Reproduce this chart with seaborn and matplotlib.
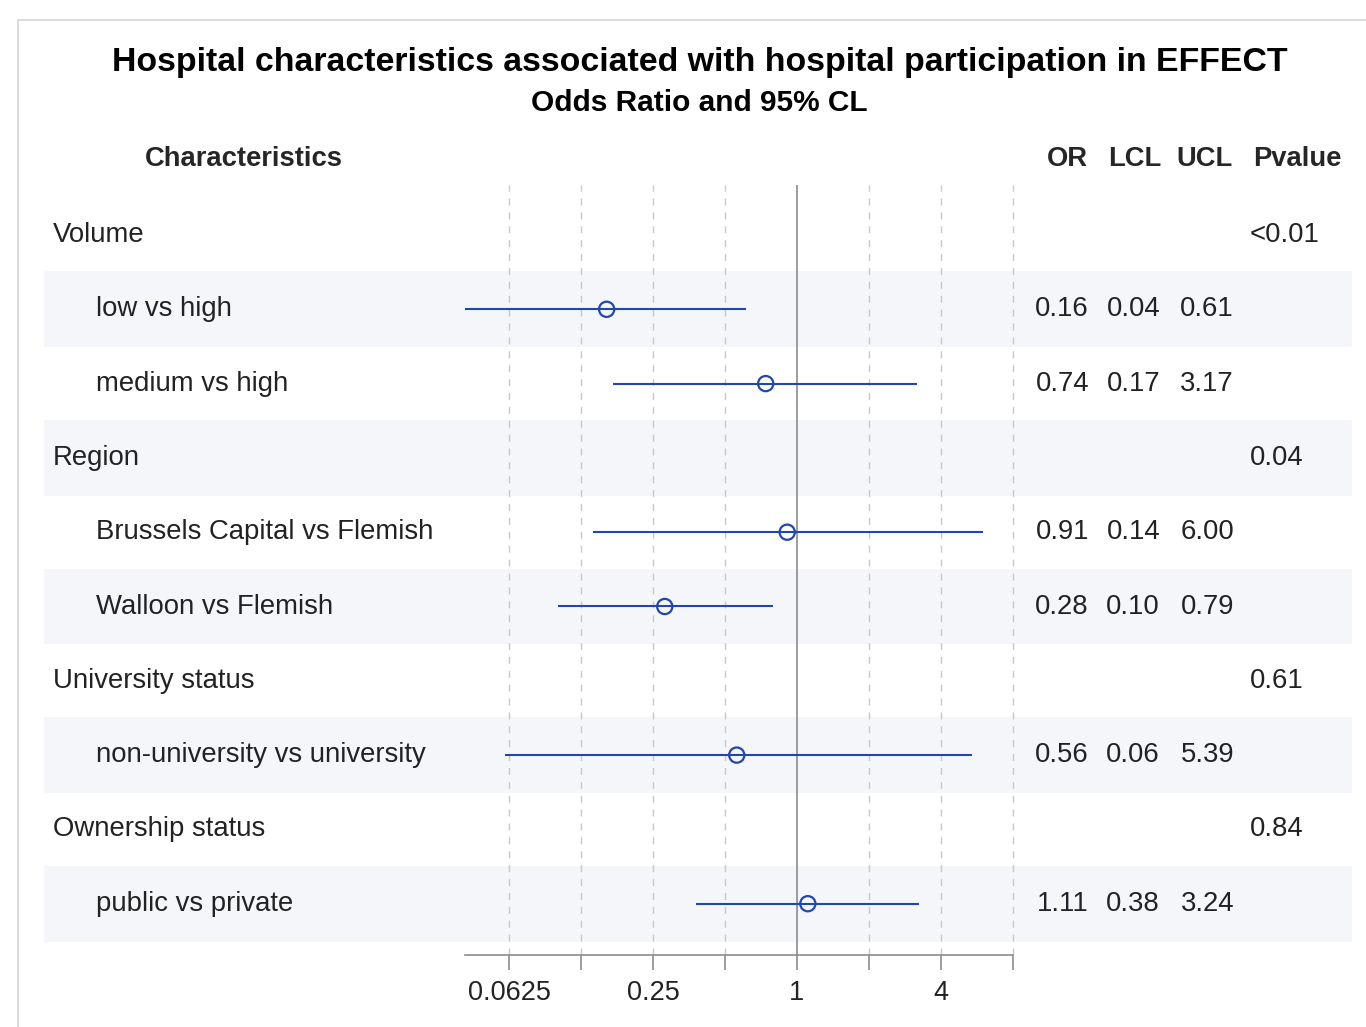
import numpy as np
import pandas as pd
import matplotlib
matplotlib.use("Agg")
import matplotlib.pyplot as plt
from matplotlib.patches import Rectangle
import seaborn as sns

labels = ["Volume", "low vs high", "medium vs high", "Region",
          "Brussels Capital vs Flemish", "Walloon vs Flemish",
          "University status", "non-university vs university",
          "Ownership status", "public vs private"]
is_group = [True, False, False, True, False, False, True, False, True, False]
odds = [np.nan, 0.16, 0.74, np.nan, 0.91, 0.28, np.nan, 0.56, np.nan, 1.11]
lcl = [np.nan, 0.04, 0.17, np.nan, 0.14, 0.10, np.nan, 0.06, np.nan, 0.38]
ucl = [np.nan, 0.61, 3.17, np.nan, 6.00, 0.79, np.nan, 5.39, np.nan, 3.24]
pvals = ["<0.01", "", "", "0.04", "", "", "0.61", "", "0.84", ""]
xticks = [0.0625, 0.125, 0.25, 0.5, 1, 2, 4, 8]
xticklabels = ["0.0625", "", "0.25", "", "1", "", "4", ""]

df = pd.DataFrame({"row": np.arange(len(labels)), "label": labels,
                   "OR": odds, "LCL": lcl, "UCL": ucl, "p": pvals})

sns.set_theme(style="white")
plt.rcParams["font.family"] = ["Liberation Sans", "DejaVu Sans"]

W, H = 1366, 1027
fig = plt.figure(figsize=(W / 100, H / 100), dpi=100)

def fx(px):
    return px / W

def fy(py):
    return 1 - py / H

# outer border (open to the right and bottom)
fig.patches.append(Rectangle((fx(18), -0.1), 1.2, fy(20) + 0.1, transform=fig.transFigure,
                             fill=False, edgecolor="#D4D4D4", linewidth=1.2))

row0, step = 235, 74.3
top_px, bot_px = 185, 955
ylim = ((bot_px - row0) / step, (top_px - row0) / step)

# background band axes
axbg = fig.add_axes([fx(44), fy(bot_px), fx(1352) - fx(44), fy(top_px) - fy(bot_px)])
axbg.set_xlim(0, 1)
axbg.set_ylim(*ylim)
axbg.axis("off")
for i in range(len(labels)):
    if i % 2 == 1:
        axbg.axhspan(i - 0.51, i + 0.51, color="#F4F6FA", lw=0)

# forest axes
ax = fig.add_axes([fx(465), fy(bot_px), fx(1013) - fx(465), fy(top_px) - fy(bot_px)])
ax.patch.set_alpha(0)
ax.set_xscale("log", base=2)
ax.set_xlim(2 ** -4.611, 8)
ax.set_ylim(*ylim)
for t in xticks:
    if t == 1:
        ax.axvline(t, color="#8C8C8C", lw=1.2, zorder=1)
    else:
        ax.axvline(t, color="#C8C8C8", lw=1.0, ls=(0, (5, 5)), zorder=1, clip_on=False)

blue = "#2347A8"
d = df.dropna(subset=["OR"])
ax.hlines(d["row"], d["LCL"], d["UCL"], color=blue, lw=1.5, zorder=3)
sns.scatterplot(data=d, x="OR", y="row", ax=ax, marker="o", s=120,
                facecolor="none", edgecolor=blue, linewidth=1.6, zorder=4, legend=False)

ax.set_xticks(xticks)
ax.set_xticklabels(xticklabels, fontsize=19.5, color="#222222")
ax.minorticks_off()
ax.tick_params(axis="x", which="major", direction="out", length=11, width=1.2,
               color="#8C8C8C", pad=7, bottom=True)
ax.set_yticks([])
ax.set_xlabel("")
ax.set_ylabel("")
for s in ["top", "left", "right"]:
    ax.spines[s].set_visible(False)
ax.spines["bottom"].set_color("#8C8C8C")
ax.spines["bottom"].set_linewidth(1.2)

# text
fig.text(fx(700), fy(62), "Hospital characteristics associated with hospital participation in EFFECT",
         ha="center", va="center", fontsize=24.4, fontweight="bold", color="black")
fig.text(fx(699), fy(103), "Odds Ratio and 95% CL", ha="center", va="center",
         fontsize=21.5, fontweight="bold", color="black")
hdr_y = fy(159)
hfs = 19.7
fig.text(fx(244), hdr_y, "Characteristics", ha="center", va="center", fontsize=hfs, fontweight="bold")
fig.text(fx(1067), hdr_y, "OR", ha="center", va="center", fontsize=hfs, fontweight="bold")
fig.text(fx(1135), hdr_y, "LCL", ha="center", va="center", fontsize=hfs, fontweight="bold")
fig.text(fx(1205), hdr_y, "UCL", ha="center", va="center", fontsize=hfs, fontweight="bold")
fig.text(fx(1297), hdr_y, "Pvalue", ha="center", va="center", fontsize=hfs, fontweight="bold")

txtc = "#222222"
fs = 19.8
for _, r in df.iterrows():
    y = fy(row0 + step * r["row"])
    x = 53 if is_group[r["row"]] else 96
    fig.text(fx(x), y, r["label"], ha="left", va="center", fontsize=fs, color=txtc)
    if not np.isnan(r["OR"]):
        fig.text(fx(1089), y, f"{r['OR']:.2f}", ha="right", va="center", fontsize=fs, color=txtc)
        fig.text(fx(1160), y, f"{r['LCL']:.2f}", ha="right", va="center", fontsize=fs, color=txtc)
        fig.text(fx(1234), y, f"{r['UCL']:.2f}", ha="right", va="center", fontsize=fs, color=txtc)
    if r["p"]:
        fig.text(fx(1250), y, r["p"], ha="left", va="center", fontsize=fs, color=txtc)

fig.savefig("out.png", dpi=100)
